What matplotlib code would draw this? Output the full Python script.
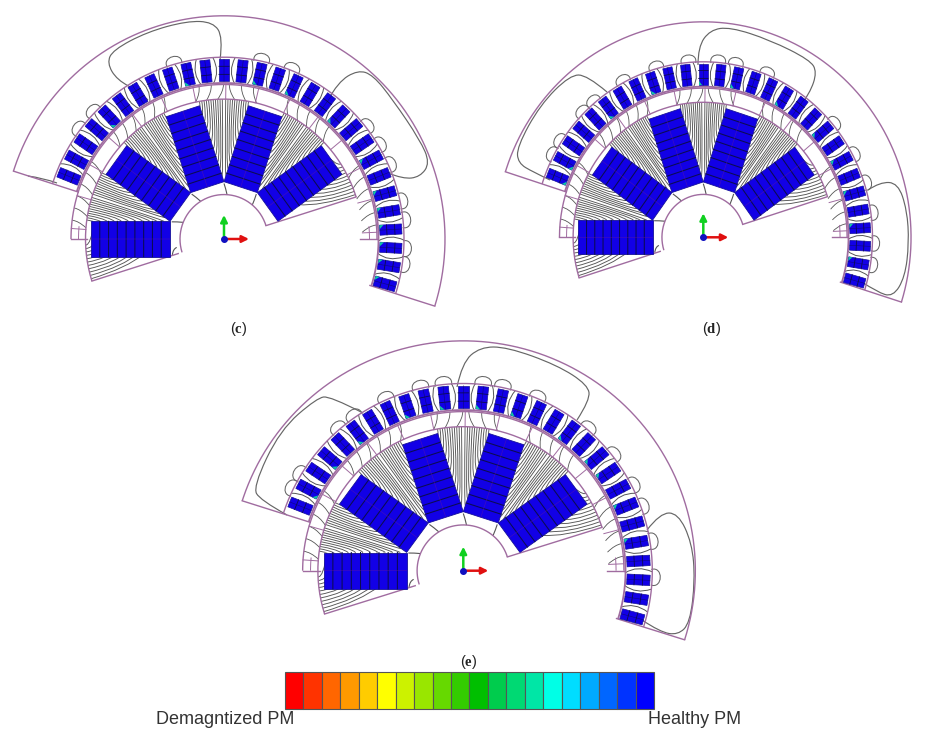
import numpy as np
import matplotlib.pyplot as plt
from matplotlib.path import Path
from matplotlib.patches import PathPatch, Polygon, Rectangle

plt.rcParams['font.family'] = ['Liberation Sans', 'DejaVu Sans']
plt.rcParams['mathtext.fontset'] = 'custom'
plt.rcParams['mathtext.rm'] = 'Liberation Serif'
plt.rcParams['mathtext.bf'] = 'Liberation Serif:bold'

# panel placement (centre x, centre y, x scale, y scale)
panel_names = ['c', 'd', 'e']
centres = [(224, 239), (703.3, 237.3), (463.3, 570.7)]
scales = [(1.0, 1.01), (0.94, 0.975), (1.05, 1.04)]
caption_pos = [(239, 329), (711, 329), (469, 662)]

# machine geometry
magnet_angles = [180, 144, 108, 72, 36]
slot_angles = [90 - 6.2 * k for k in range(-11, 18)]
r_bore, r_rotor, r_band, r_slot_in, r_slot_out, r_yoke, r_outer = 44, 138.5, 153, 156, 178, 180, 221
mag_in, mag_out, mag_half = 54, 133, 17.5
start_a, end_a = 162.3, -17.5

# big flux loops in the yoke, picture pixels
loops = {
    'c': [[(220, 60), (223, 37), (213, 22), (187, 21), (147, 32), (113, 50), (107, 63), (117, 80), (140, 92), (148, 100)],
          [(328, 100), (338, 82), (358, 70), (373, 75), (393, 100), (420, 140), (430, 163), (420, 177), (403, 179), (388, 173)],
          [(28, 176), (43, 178), (57, 183)]],
    'd': [[(698, 65), (698, 47), (710, 30), (730, 27), (770, 40), (810, 60), (817, 72), (810, 93), (800, 107)],
          [(868, 190), (880, 182), (898, 183), (907, 210), (909, 243), (905, 277), (893, 297), (877, 292), (862, 282)],
          [(607, 92), (587, 75), (570, 75), (540, 105), (517, 147), (518, 163), (533, 172), (550, 180)]],
    'e': [[(457, 387), (462, 363), (480, 347), (507, 347), (557, 365), (588, 385), (590, 400), (577, 420)],
          [(647, 530), (660, 513), (678, 513), (692, 543), (695, 580), (690, 623), (678, 635), (660, 632), (642, 620)],
          [(363, 413), (330, 396), (317, 398), (280, 430), (253, 487), (260, 500), (287, 515)]],
}

# small loops over the slot tops, degrees
bumps = {
    'c': [143, 136, 106, 78, 68, 38, 31, 24, 12, 6, -3, -8],
    'd': [152, 147, 135, 130, 118, 106, 95, 85, 79, 68, 40, 28, 18, 8, -2, -9],
    'e': [154, 149, 131, 125, 114, 103, 96, 84, 78, 67, 49, 38, 27, 20, 9, -2],
}
# slots that show a small demagnetised patch at the root
hot_slots = {
    'c': [4, 9, 13, 15, 18, 21, 23, 24, 25, 26, 27, 28],
    'd': [0, 1, 5, 8, 11, 13, 16, 19, 21, 23, 25, 27],
    'e': [1, 3, 5, 8, 10, 12, 14, 17, 19, 20, 22, 24],
}

# legend cells, red to blue
legend_colors = ['#ff0000', '#ff3300', '#ff6600', '#ff9900', '#ffcc00', '#ffff00', '#ccf200',
                 '#99e600', '#66d900', '#33cc00', '#00bf00', '#00cc4d', '#00d973', '#00e6a6',
                 '#00ffe6', '#00ddff', '#00aaff', '#0066ff', '#0033ff', '#0000ff']

PURPLE = '#a06ca0'
FLUX = '#555555'
BLUE = '#1200e6'
SLICE = '#0c0c50'

fig = plt.figure(figsize=(9.37, 7.43), dpi=100)
ax = fig.add_axes([0, 0, 1, 1])
ax.set_xlim(0, 937)
ax.set_ylim(743, 0)
ax.axis('off')


def quad(p0, p1, p2, color=FLUX, lw=0.65, z=3):
    verts = [p0, p1, p2]
    codes = [Path.MOVETO, Path.CURVE3, Path.CURVE3]
    ax.add_patch(PathPatch(Path(verts, codes), fc='none', ec=color, lw=lw, zorder=z))


def smooth(points, color='#666666', lw=0.85):
    # quadratic spline through the midpoints of the given points
    pts = np.array(points, float)
    verts = [pts[0]]
    codes = [Path.MOVETO]
    for i in range(1, len(pts) - 1):
        end = pts[i + 1] if i == len(pts) - 2 else (pts[i] + pts[i + 1]) / 2
        verts += [pts[i], end]
        codes += [Path.CURVE3, Path.CURVE3]
    ax.add_patch(PathPatch(Path(verts, codes), fc='none', ec=color, lw=lw, zorder=3))


def draw_motor(name, centre, scale):
    cx, cy = centre
    sx, sy = scale

    def xy(r, a):
        t = np.radians(a)
        return cx + sx * r * np.cos(t), cy - sy * r * np.sin(t)

    def local(u, v, a):
        # u along the radial direction a, v to its left
        t = np.radians(a)
        return (cx + sx * (u * np.cos(t) - v * np.sin(t)),
                cy - sy * (u * np.sin(t) + v * np.cos(t)))

    def arc(r, a0, a1, color=PURPLE, lw=1.0, z=4):
        aa = np.linspace(a0, a1, 200)
        x, y = xy(r, aa)
        ax.plot(x, y, color=color, lw=lw, zorder=z, solid_capstyle='butt')

    def radial(r0, r1, a, color=PURPLE, lw=1.0, z=4):
        p, q = xy(r0, a), xy(r1, a)
        ax.plot([p[0], q[0]], [p[1], q[1]], color=color, lw=lw, zorder=z)

    # rotor flux between the magnets
    for left, right in [(180, 144), (144, 108), (108, 72), (72, 36)]:
        mid = (left + right) / 2
        for side, m in ((1, right), (-1, left)):
            for i, u in enumerate(np.linspace(60, 131, 11)):
                p = local(u, side * mag_half, m)
                e = mid - side * (0.7 + 0.95 * i)
                quad(p, xy(u + 6, e), xy(r_rotor, e))
    # outer fans below the first and last magnet
    for i, u in enumerate(np.linspace(62, 130, 11)):
        e = 196.5 - 1.4 * i
        quad(local(u, -mag_half, 180), xy(u + 3, e), xy(r_rotor, e))
        e = 18.5 + 1.4 * i
        quad(local(u, mag_half, 36), xy(u + 3, e), xy(r_rotor, e))

    # short lines at the magnet roots
    for a in (162, 126, 90, 54):
        quad(xy(mag_in + 1, a), xy(50, a - 2), xy(r_bore, a - 4), lw=0.8)
    quad(xy(mag_in, 197), xy(52, 191), xy(r_bore + 4, 190), lw=0.8)

    # magnets with their slices
    for m in magnet_angles:
        corners = [local(mag_in, -mag_half, m), local(mag_out, -mag_half, m),
                   local(mag_out, mag_half, m), local(mag_in, mag_half, m)]
        ax.add_patch(Polygon(corners, fc=BLUE, ec='#15109a', lw=0.6, zorder=5))
        for u in np.linspace(mag_in, mag_out, 10)[1:-1]:
            p, q = local(u, -mag_half, m), local(u, mag_half, m)
            ax.plot([p[0], q[0]], [p[1], q[1]], color=SLICE, lw=0.75, zorder=6, snap=False)
        p, q = local(mag_in, 0, m), local(mag_out, 0, m)
        ax.plot([p[0], q[0]], [p[1], q[1]], color='#6a1a9a', lw=0.4, alpha=0.6, zorder=6, snap=False)

    # rotor outline
    arc(r_rotor, 197.5, 17.5)
    arc(r_bore, 197.5, 17.5)
    radial(r_bore + 4, r_rotor, 197.5)
    radial(r_bore, r_rotor, 17.5)

    # sleeve band with mesh and flux
    arc(r_band, 0, 180)
    arc(r_band + 1.5, end_a, start_a, lw=1.3)
    radial(r_rotor - 2, r_band, 0)
    radial(r_rotor - 2, r_band, 180)
    arc(r_rotor + 7, 0, 5, lw=0.7)
    arc(r_rotor + 7, 175, 180, lw=0.7)
    for a in np.arange(2.5, 180, 12.4):
        radial(r_rotor, r_band, a, lw=0.7)
    for j, a in enumerate(np.arange(4, 178, 4.6)):
        if min(abs(a - m) for m in magnet_angles) < 5.0:
            continue
        off = 1.2 if a < 90 else -1.2
        quad(xy(r_rotor, a - off), xy(r_rotor + 8, a + off), xy(r_band, a + off), lw=0.6)

    # stator slots
    hot = hot_slots[name]
    half = 5.0
    for k, a in enumerate(slot_angles):
        # flux wandering through the gap next to the slot
        if k < len(slot_angles) - 1:
            g = a - 3.1
            w = 0.9 if k % 2 else -0.9
            quad(xy(r_band + 1, g - w), xy(r_slot_in + 10, g + 2 * w), xy(r_yoke, g - w * 0.5), lw=0.7)
        corners = [local(r_slot_in, -half, a), local(r_slot_out, -half, a),
                   local(r_slot_out, half, a), local(r_slot_in, half, a)]
        ax.add_patch(Polygon(corners, fc=BLUE, ec='#15109a', lw=0.5, zorder=5))
        for u in (r_slot_in + 7, r_slot_in + 15):
            p, q = local(u, -half, a), local(u, half, a)
            ax.plot([p[0], q[0]], [p[1], q[1]], color=SLICE, lw=0.6, zorder=6, snap=False)
        p, q = local(r_slot_in, 0, a), local(r_slot_out, 0, a)
        ax.plot([p[0], q[0]], [p[1], q[1]], color=SLICE, lw=0.4, alpha=0.7, zorder=6, snap=False)
        if k in hot:
            patch = [local(r_slot_in, 1, a), local(r_slot_in, half, a), local(r_slot_in + 4, half, a)]
            ax.add_patch(Polygon(patch, fc='#10c8a0', ec='none', zorder=7))

    # small loops above the slots
    for b in bumps[name]:
        p0, p1 = xy(r_yoke - 1, b + 2.4), xy(r_yoke - 1, b - 2.4)
        c0, c1 = xy(r_yoke + 11, b + 3.4), xy(r_yoke + 11, b - 3.4)
        verts = [p0, c0, c1, p1]
        codes = [Path.MOVETO, Path.CURVE4, Path.CURVE4, Path.CURVE4]
        ax.add_patch(PathPatch(Path(verts, codes), fc='none', ec='#666666', lw=0.75, zorder=3))

    # stator outline
    arc(r_yoke, end_a, start_a)
    arc(r_outer, end_a, start_a)
    radial(r_band, r_outer, start_a)
    radial(r_band, r_outer, end_a)

    for line in loops[name]:
        smooth(line)

    # coordinate triad
    ax.annotate('', xy=(cx, cy - 24), xytext=(cx, cy), zorder=8,
                arrowprops=dict(arrowstyle='-|>', color='#10d020', lw=1.8, mutation_scale=10, shrinkA=0, shrinkB=0))
    ax.annotate('', xy=(cx + 25, cy), xytext=(cx, cy), zorder=8,
                arrowprops=dict(arrowstyle='-|>', color='#e01010', lw=1.8, mutation_scale=10, shrinkA=0, shrinkB=0))
    ax.plot([cx], [cy], 'o', color='#1010c0', ms=4, zorder=9)


for name, centre, scale, pos in zip(panel_names, centres, scales, caption_pos):
    draw_motor(name, centre, scale)
    ax.text(pos[0], pos[1], '($\\mathbf{' + name + '}$)', fontsize=10.5, ha='center', va='center', color='#222222')

# legend bar
bar_x, bar_w, bar_y, bar_h = 285, 369 / len(legend_colors), 672, 37
for i, col in enumerate(legend_colors):
    ax.add_patch(Rectangle((bar_x + i * bar_w, bar_y), bar_w, bar_h, fc=col, ec='#555555', lw=0.8, zorder=2))

ax.text(156, 720, 'Demagntized PM', fontsize=13, ha='left', va='center', color='#333333')
ax.text(741, 720, 'Healthy PM', fontsize=13, ha='right', va='center', color='#333333')

fig.savefig('out.png', dpi=100)
